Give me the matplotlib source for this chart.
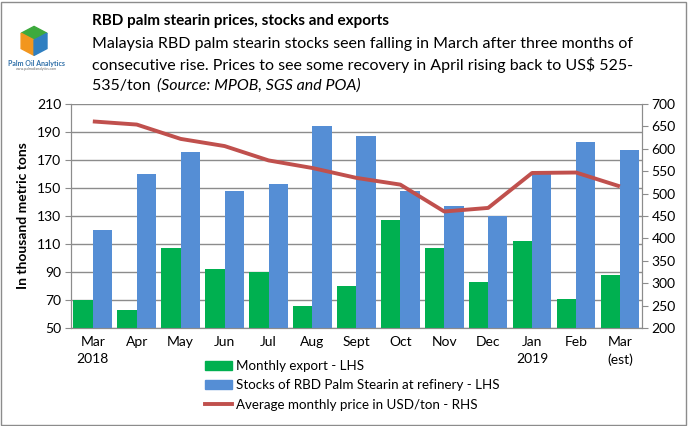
import numpy as np
import matplotlib.pyplot as plt
from matplotlib.patches import Polygon, Rectangle
from matplotlib.lines import Line2D

months = ['Mar\n2018', 'Apr', 'May', 'Jun', 'Jul', 'Aug', 'Sept', 'Oct',
          'Nov', 'Dec', 'Jan\n2019', 'Feb', 'Mar\n(est)']
exports = [70, 63, 107, 92, 90, 66, 80, 127, 107, 83, 112, 71, 88]
stocks = [120, 160, 176, 148, 153, 194, 187, 148, 137, 130, 160, 183, 177]
price = [661, 654, 622, 606, 574, 557, 535, 520, 460, 468, 546, 547, 516]

plt.rcParams['font.family'] = ['Lato', 'DejaVu Sans']

GREEN = '#00B050'
BLUE = '#558ED5'
RED = '#C0504D'
GRID = '#8C8C8C'

fig = plt.figure(figsize=(6.88, 4.26), dpi=100)
ax = fig.add_axes([0.103, 0.230, 0.830, 0.526])
ax2 = ax.twinx()

x = np.arange(len(months))
w = 0.44
ax.bar(x - w / 2, exports, w, color=GREEN, zorder=3)
ax.bar(x + w / 2, stocks, w, color=BLUE, zorder=3)
ax2.plot(x, price, color=RED, lw=2.8, zorder=4, solid_capstyle='butt')

ax.set_xlim(-0.5, len(months) - 0.5)
ax.set_ylim(50, 210)
ax.set_yticks(range(50, 211, 20))
ax2.set_ylim(200, 700)
ax2.set_yticks(range(200, 701, 50))
ax.set_xticks(x)
ax.set_xticklabels(months, fontsize=10, linespacing=1.45)
ax.tick_params(axis='x', length=0, pad=6)
ax.tick_params(axis='y', length=4, color=GRID, labelsize=10, pad=3)
ax2.tick_params(axis='y', length=4, color=GRID, labelsize=10, pad=3)
ax.grid(axis='y', color=GRID, lw=1, zorder=0)
ax.set_axisbelow(True)

for a in (ax, ax2):
    a.spines['top'].set_visible(False)
    a.spines['left'].set_color(GRID)
    a.spines['right'].set_color(GRID)
    a.spines['bottom'].set_color(GRID)
ax.set_zorder(ax2.get_zorder() - 1)
ax.patch.set_visible(False)
ax2.patch.set_visible(True)
ax2.patch.set_alpha(0)

ax.set_ylabel('In thousand metric tons', fontsize=10, fontweight='bold', labelpad=6)

# legend below the plot
handles = [Rectangle((0, 0), 1, 1, color=GREEN),
           Rectangle((0, 0), 1, 1, color=BLUE),
           Line2D([0], [0], color=RED, lw=2.8)]
labels = ['Monthly export - LHS',
          'Stocks of RBD Palm Stearin at refinery - LHS',
          'Average monthly price in USD/ton - RHS']
fig.legend(handles, labels, loc='upper left', bbox_to_anchor=(0.298, 0.155),
           frameon=False, fontsize=9.6, handlelength=2.0, handleheight=0.7,
           handletextpad=0.3, labelspacing=0.55, borderaxespad=0, borderpad=0)

# titles
fig.text(0.134, 0.950, 'RBD palm stearin prices, stocks and exports',
         fontsize=11, fontweight='bold', va='center')
fig.text(0.134, 0.897, 'Malaysia RBD palm stearin stocks seen falling in March after three months of',
         fontsize=11.5, va='center')
fig.text(0.134, 0.848, 'consecutive rise. Prices to see some recovery in April rising back to US$ 525-',
         fontsize=11.5, va='center')
fig.text(0.134, 0.798, '535/ton ', fontsize=11.5, va='center')
fig.text(0.134 + 0.094, 0.798, '(Source: MPOB, SGS and POA)', fontsize=11.5,
         va='center', style='italic')

# small logo
lg = fig.add_axes([0.026, 0.862, 0.047, 0.080])
lg.set_xlim(0, 1)
lg.set_ylim(0, 1)
lg.axis('off')
lg.add_patch(Polygon([[0.5, 0.95], [0.9, 0.75], [0.5, 0.55], [0.1, 0.75]], color='#3DAA3D'))
lg.add_patch(Polygon([[0.1, 0.75], [0.5, 0.55], [0.5, 0.1], [0.1, 0.3]], color='#F2961E'))
lg.add_patch(Polygon([[0.5, 0.55], [0.9, 0.75], [0.9, 0.3], [0.5, 0.1]], color='#2F7FC1'))
fig.text(0.053, 0.851, 'Palm Oil Analytics', fontsize=5.0, color='#2F6FA8',
         ha='center', va='center', fontweight='bold')
fig.text(0.053, 0.837, 'www.palmoilanalytics.com', fontsize=2.5, color='#666666',
         ha='center', va='center')

# outer frame
fig.patches.append(Rectangle((0.002, 0.003), 0.995, 0.993, transform=fig.transFigure,
                             fill=False, edgecolor='#8C8C8C', lw=1))

fig.savefig('out.png', dpi=100)
